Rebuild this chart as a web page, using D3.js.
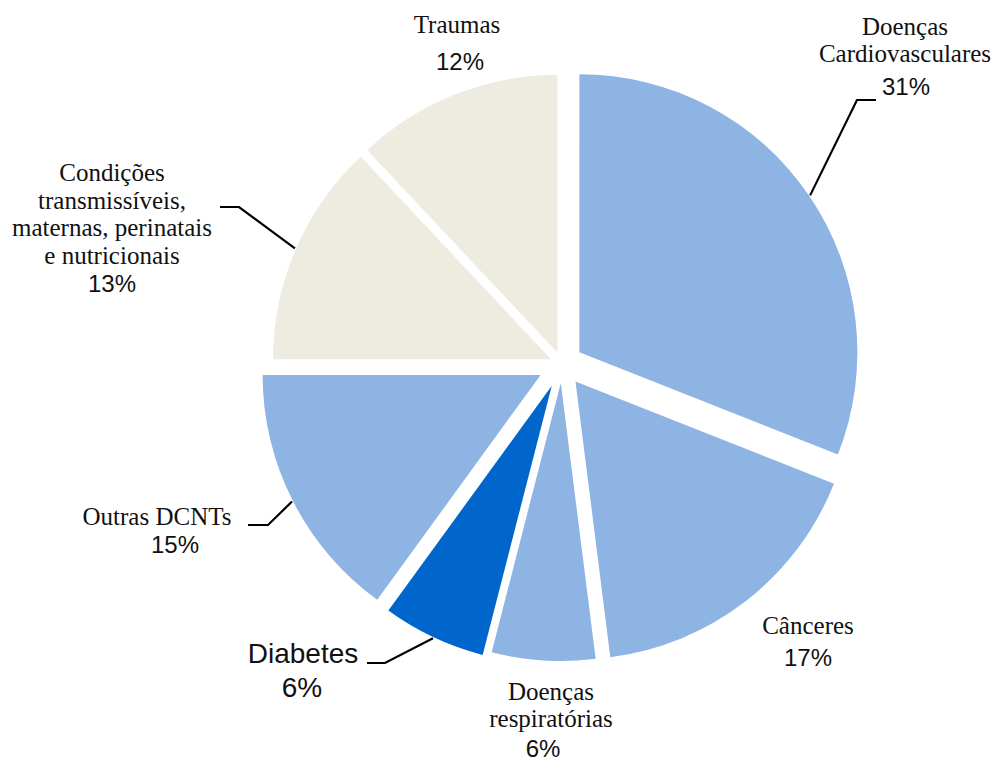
<!DOCTYPE html>
<html>
<head>
<meta charset="utf-8">
<script src="https://cdn.jsdelivr.net/npm/d3@7"></script>
<style>
  html, body { margin: 0; padding: 0; background: #ffffff; }
  svg { display: block; }
</style>
</head>
<body>
<script>
// Causes of death, share of total (%)
const categories = [
  "Doenças Cardiovasculares",
  "Cânceres",
  "Doenças respiratórias",
  "Diabetes",
  "Outras DCNTs",
  "Condições transmissíveis, maternas, perinatais e nutricionais",
  "Traumas"
];
const values = [31, 17, 6, 6, 15, 13, 12];
const nameLines = [
  ["Doenças", "Cardiovasculares"],
  ["Cânceres"],
  ["Doenças", "respiratórias"],
  ["Diabetes"],
  ["Outras DCNTs"],
  ["Condições", "transmissíveis,", "maternas, perinatais", "e nutricionais"],
  ["Traumas"]
];
const valueLabels = values.map(v => v + "%");

// ---- styling / layout ----
const W = 994, H = 762;
const cx = 562, cy = 364, R = 278;
const fills = ["#8EB4E3", "#8EB4E3", "#8EB4E3", "#0066CC", "#8EB4E3", "#EEECE1", "#EEECE1"];
const explode = [21, 22, 19, 24, 24, 12, 12];

// label placement: name block centre x, first baseline, line step, value x/baseline, fonts
const labelLayout = [
  { nx: 905, ny: 35, step: 27, vx: 906, vy: 95, nfont: "serif", vsize: 24 },
  { nx: 808, ny: 634, step: 27, vx: 808, vy: 666, nfont: "serif", vsize: 24 },
  { nx: 551, ny: 700, step: 27, vx: 543, vy: 757, nfont: "serif", vsize: 24 },
  { nx: 303, ny: 663, step: 27, vx: 302, vy: 697, nfont: "sans", vsize: 28, nsize: 28 },
  { nx: 157, ny: 525, step: 27, vx: 175, vy: 553, nfont: "serif", vsize: 24 },
  { nx: 112, ny: 181, step: 27.5, vx: 112, vy: 292, nfont: "serif", vsize: 24 },
  { nx: 457, ny: 33, step: 27, vx: 460, vy: 70, nfont: "serif", vsize: 24 }
];
// leader polylines: start point and elbow, ending on the slice rim
const leaders = [
  { i: 0, pts: [[876, 100], [857, 100]] },
  { i: 5, pts: [[220, 207], [239, 207]] },
  { i: 4, pts: [[248, 525], [268, 525]] },
  { i: 3, pts: [[367, 663], [385, 663]] }
];

const SERIF = "'Liberation Serif', 'Times New Roman', serif";
const SANS = "'Liberation Sans', Arial, sans-serif";

const svg = d3.select("body").append("svg")
  .attr("width", W).attr("height", H);

const pie = d3.pie().sort(null).value(d => d).startAngle(0).endAngle(2 * Math.PI);
const arcs = pie(values);
const arc = d3.arc().innerRadius(0).outerRadius(R);

const mid = a => (a.startAngle + a.endAngle) / 2;
const offset = (a, i) => [explode[i] * Math.sin(mid(a)), -explode[i] * Math.cos(mid(a))];

const g = svg.append("g").attr("transform", `translate(${cx},${cy})`);

g.selectAll("path.slice")
  .data(arcs)
  .join("path")
  .attr("class", "slice")
  .attr("d", arc)
  .attr("fill", (d, i) => fills[i])
  .attr("transform", (d, i) => {
    const [ox, oy] = offset(d, i);
    return `translate(${ox},${oy})`;
  });

// leader lines
leaders.forEach(L => {
  const a = arcs[L.i];
  const [ox, oy] = offset(a, L.i);
  const m = mid(a);
  const end = [cx + ox + (R + 1) * Math.sin(m), cy + oy - (R + 1) * Math.cos(m)];
  svg.append("path")
    .attr("d", d3.line()([...L.pts, end]))
    .attr("fill", "none")
    .attr("stroke", "#000")
    .attr("stroke-width", 2.2);
});

// labels
const labels = svg.append("g").attr("fill", "#111");
arcs.forEach((a, i) => {
  const L = labelLayout[i];
  const isSans = L.nfont === "sans";
  const t = labels.append("text")
    .attr("text-anchor", "middle")
    .attr("font-family", isSans ? SANS : SERIF)
    .attr("font-size", isSans ? L.nsize : 25);
  nameLines[i].forEach((line, k) => {
    t.append("tspan").attr("x", L.nx).attr("y", L.ny + k * L.step).text(line);
  });
  labels.append("text")
    .attr("text-anchor", "middle")
    .attr("font-family", SANS)
    .attr("font-size", L.vsize)
    .attr("x", L.vx).attr("y", L.vy)
    .text(valueLabels[i]);
});
</script>
</body>
</html>
